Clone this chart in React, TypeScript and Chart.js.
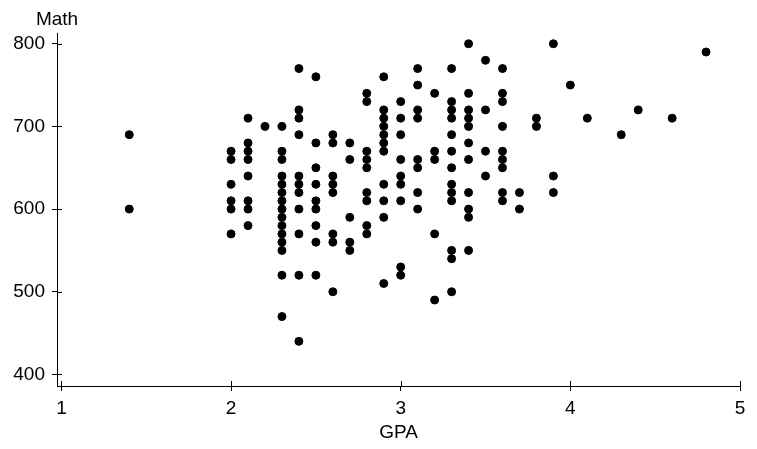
import React, { useEffect, useRef } from "react";
import { Chart, registerables } from "chart.js";

Chart.register(...registerables);

const gpaLevels = [1.4, 2.0, 2.1, 2.2, 2.3, 2.4, 2.5, 2.6, 2.7, 2.8, 2.9, 3.0, 3.1, 3.2, 3.3, 3.4, 3.5, 3.6, 3.7, 3.8, 3.9, 4.0, 4.1, 4.3, 4.4, 4.6, 4.8];
const mathScores = [
  [690, 600],
  [670, 660, 630, 610, 600, 570],
  [710, 680, 670, 660, 640, 610, 600, 580],
  [700],
  [700, 670, 660, 640, 630, 620, 610, 600, 590, 580, 570, 560, 550, 520, 470],
  [770, 720, 710, 690, 640, 630, 620, 600, 570, 520, 440],
  [760, 680, 650, 630, 610, 600, 580, 560, 520],
  [690, 680, 640, 630, 620, 570, 560, 500],
  [680, 660, 590, 560, 550],
  [740, 730, 670, 660, 650, 620, 610, 580, 570],
  [760, 720, 710, 700, 690, 680, 670, 630, 610, 590, 510],
  [730, 710, 690, 660, 640, 630, 610, 530, 520],
  [770, 750, 720, 710, 660, 650, 620, 600],
  [740, 670, 660, 570, 490],
  [770, 730, 720, 710, 690, 670, 650, 630, 620, 610, 550, 540, 500],
  [800, 740, 720, 710, 700, 680, 660, 620, 600, 590, 550],
  [780, 720, 670, 640],
  [770, 740, 730, 700, 670, 660, 650, 620, 610],
  [620, 600],
  [710, 700],
  [800, 640, 620],
  [750],
  [710],
  [690],
  [720],
  [710],
  [790],
];
const xTickValues = [1, 2, 3, 4, 5];
const yTickValues = [400, 500, 600, 700, 800];
const xTitle = "GPA";
const yTitle = "Math";

const FONT = "'Liberation Sans', Arial, sans-serif";
const FONT_SIZE = 19;

export default function App() {
  const ref = useRef<HTMLCanvasElement | null>(null);

  useEffect(() => {
    document.body.style.margin = "0";
    const canvas = ref.current;
    if (!canvas) return;

    const points: { x: number; y: number }[] = [];
    gpaLevels.forEach((g, i) => {
      mathScores[i].forEach((m) => points.push({ x: g, y: m }));
    });

    const crossTicks = {
      id: "crossTicks",
      afterDraw(chart: any) {
        const { ctx } = chart;
        const xs = chart.scales.x;
        const ys = chart.scales.y;
        ctx.save();
        ctx.strokeStyle = "#000";
        ctx.lineWidth = 1;
        ctx.beginPath();
        xTickValues.forEach((v) => {
          const px = Math.round(xs.getPixelForValue(v)) + 0.5;
          ctx.moveTo(px, ys.bottom);
          ctx.lineTo(px, ys.bottom - 5);
        });
        yTickValues.forEach((v) => {
          const py = Math.round(ys.getPixelForValue(v)) + 0.5;
          ctx.moveTo(xs.left, py);
          ctx.lineTo(xs.left + 5, py);
        });
        ctx.stroke();
        ctx.fillStyle = "#000";
        ctx.font = `${FONT_SIZE}px ${FONT}`;
        ctx.textAlign = "center";
        ctx.textBaseline = "middle";
        ctx.fillText(yTitle, chart.chartArea.left, 20);
        ctx.restore();
      },
    };

    const chart = new Chart(canvas, {
      type: "scatter",
      data: {
        datasets: [
          {
            data: points,
            pointRadius: 4,
            pointHoverRadius: 4,
            pointBackgroundColor: "#000",
            pointBorderColor: "#000",
            pointBorderWidth: 1,
          },
        ],
      },
      options: {
        responsive: false,
        animation: false,
        devicePixelRatio: 1,
        layout: { padding: { top: 33, right: 17, left: 0, bottom: 0 } },
        plugins: {
          legend: { display: false },
          tooltip: { enabled: false },
          title: { display: false },
        },
        scales: {
          x: {
            type: "linear",
            min: 0.974,
            max: 5,
            afterBuildTicks: (scale: any) => {
              scale.ticks = xTickValues.map((v) => ({ value: v }));
            },
            afterFit: (scale: any) => {
              scale.height = 63;
            },
            border: { display: true, color: "#000", width: 1 },
            grid: { display: true, drawOnChartArea: false, drawTicks: true, tickLength: 5, color: "#000" },
            ticks: {
              color: "#000",
              font: { family: FONT, size: FONT_SIZE },
              padding: 6,
              maxRotation: 0,
              callback: (v: any) => String(v),
            },
            title: {
              display: true,
              text: xTitle,
              color: "#000",
              font: { family: FONT, size: FONT_SIZE },
              padding: { top: 0, bottom: 5 },
            },
          },
          y: {
            type: "linear",
            min: 386,
            max: 813,
            afterBuildTicks: (scale: any) => {
              scale.ticks = yTickValues.map((v) => ({ value: v }));
            },
            afterFit: (scale: any) => {
              scale.width = 57;
            },
            border: { display: true, color: "#000", width: 1 },
            grid: { display: true, drawOnChartArea: false, drawTicks: true, tickLength: 5, color: "#000" },
            ticks: {
              color: "#000",
              font: { family: FONT, size: FONT_SIZE },
              padding: 7,
              callback: (v: any) => String(v),
            },
          },
        },
      },
      plugins: [crossTicks],
    });

    return () => chart.destroy();
  }, []);

  return (
    <div style={{ width: 757, height: 449, background: "#fff" }}>
      <canvas ref={ref} width={757} height={449} />
    </div>
  );
}
